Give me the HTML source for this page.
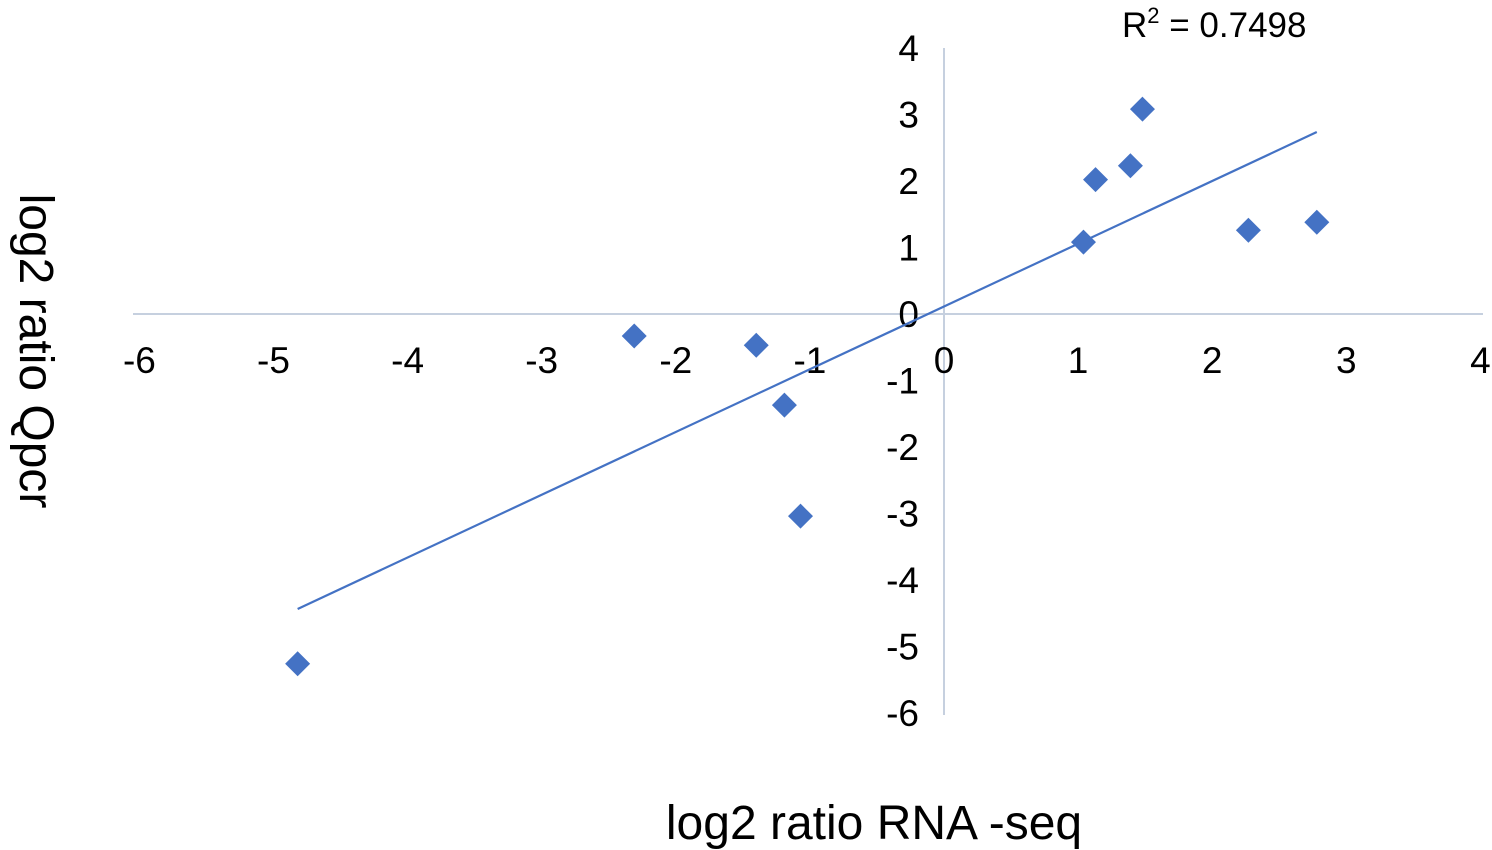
<!DOCTYPE html>
<html><head><meta charset="utf-8"><style>
html,body{margin:0;padding:0;background:#fff;}
svg{display:block;font-family:"Liberation Sans",Arial,sans-serif;}
</style></head><body>
<svg id="chart" width="1492" height="850"></svg>
<script>
const xValues=[-4.82,-2.31,-1.40,-1.19,-1.07,1.04,1.13,1.39,1.48,2.27,2.78];
const yValues=[-5.26,-0.33,-0.47,-1.37,-3.04,1.08,2.02,2.23,3.08,1.26,1.38];
const xTicks=[-6,-5,-4,-3,-2,-1,0,1,2,3,4];
const yTicks=[4,3,2,1,0,-1,-2,-3,-4,-5,-6];
const rSquaredLabel="0.7498";

const NS="http://www.w3.org/2000/svg";
const svg=document.getElementById('chart');
const X=v=>944+v*134.1;
const Y=v=>314-v*66.5;
function el(t,a,txt){const e=document.createElementNS(NS,t);for(const k in a)e.setAttribute(k,a[k]);if(txt!==undefined)e.textContent=txt;svg.appendChild(e);return e;}

let ax=el('line',{x1:133,y1:Y(0),x2:1483,y2:Y(0),stroke:'#c6d0df','stroke-width':2});


let ay=el('line',{x1:X(0),y1:Y(4),x2:X(0),y2:715,stroke:'#c6d0df','stroke-width':2});



xTicks.forEach(t=>{
  const e=el('text',{x:X(t),y:373,'font-size':37,'text-anchor':'middle',fill:'#000'},String(t));
  
  
});
yTicks.forEach(t=>{
  const e=el('text',{x:919,y:Y(t)+13,'font-size':37,'text-anchor':'end',fill:'#000'},String(t));
  
  
});

const n=xValues.length;
const mx=xValues.reduce((a,b)=>a+b,0)/n, my=yValues.reduce((a,b)=>a+b,0)/n;
let sxy=0,sxx=0;for(let i=0;i<n;i++){sxy+=(xValues[i]-mx)*(yValues[i]-my);sxx+=(xValues[i]-mx)**2;}
const slope=sxy/sxx, icpt=my-slope*mx;
const x0=Math.min(...xValues), x1=Math.max(...xValues);
let tl=el('line',{x1:X(x0),y1:Y(icpt+slope*x0),x2:X(x1),y2:Y(icpt+slope*x1),stroke:'#4472c4','stroke-width':2.2});



for(let i=0;i<n;i++){
  const cx=X(xValues[i]),cy=Y(yValues[i]),r=12.5;
  const p=el('polygon',{points:`${cx},${cy-r} ${cx+r},${cy} ${cx},${cy+r} ${cx-r},${cy}`,fill:'#4472c4'});
  
  
}

const r2=el('text',{x:1122,y:37,'font-size':35,fill:'#000'});


r2.innerHTML='R<tspan dy="-14" font-size="22">2</tspan><tspan dy="14"> = '+rSquaredLabel+'</tspan>';

const xt=el('text',{x:874,y:839,'font-size':48,'text-anchor':'middle',fill:'#000'},'log2 ratio RNA -seq');


const yt=el('text',{x:0,y:0,'font-size':48,'text-anchor':'middle',fill:'#000',transform:'translate(20,351) rotate(90)'},'log2 ratio Qpcr');


</script>
</body></html>
